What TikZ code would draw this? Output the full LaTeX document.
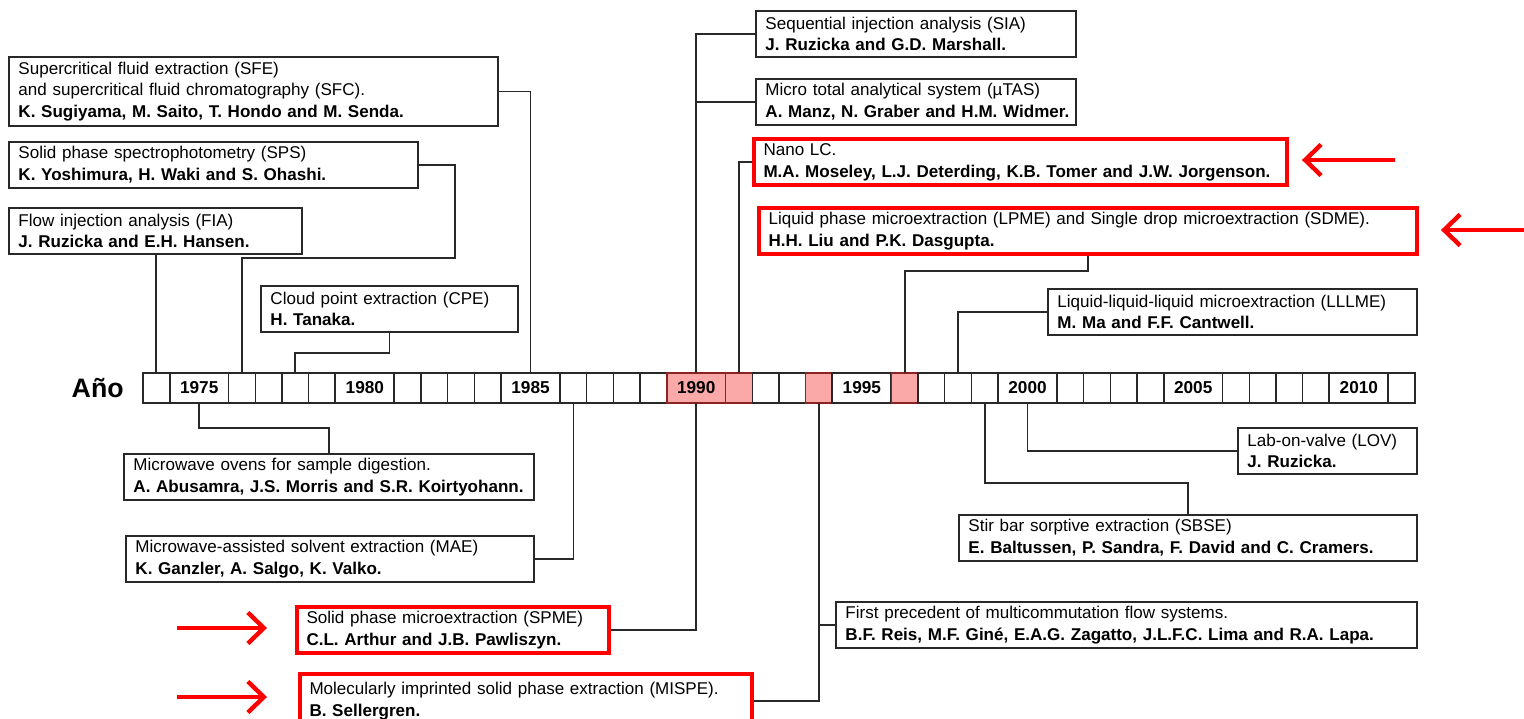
\documentclass[tikz,border=0pt]{standalone}
\usepackage{fontspec}
\setmainfont{Liberation Sans}
\usetikzlibrary{positioning,arrows.meta}
\definecolor{tlgray}{RGB}{40,40,40}
\definecolor{tlred}{RGB}{255,0,0}
\definecolor{tlpink}{RGB}{250,168,168}
\definecolor{tldark}{RGB}{140,35,35}
\newcommand{\evtext}[2]{\mbox{#1}\\\mbox{\bfseries #2}}
\tikzset{
  evt/.style={draw=tlgray, line width=1.1pt, anchor=north west, inner xsep=0.19cm, inner ysep=1pt,
    minimum height=0.92cm, text width=#1, align=left, font=\fontsize{9.7}{12.4}\selectfont},
  newevt/.style={evt=#1, draw=tlred, line width=2.3pt},
  cell/.style={draw=tlgray, line width=0.7pt, fill=white, minimum width=0.533cm, minimum height=0.6cm,
    inner sep=0pt, outer sep=0pt, font=\fontsize{9.8}{12}\selectfont\bfseries},
  bigcell/.style={cell, minimum width=1.182cm, line width=1.1pt},
  pinkcell/.style={fill=tlpink, draw=tldark},
  plaincell/.style={},
  link/.style={draw=tlgray, line width=1pt},
  pointer/.style={tlred, line width=2.5pt, -{Straight Barb[length=0.32cm, width=0.62cm]}}
}
\begin{document}
\begin{tikzpicture}[x=0.02cm, y=-0.02cm]
  \useasboundingbox (0,0) rectangle (1524,718);

  % time line, one cell per year
  \node[cell, anchor=west] (c1974) at (143,388) {};
  \foreach \yr [remember=\yr as \prv (initially 1974)] in {1975,...,2011}{
    \pgfmathtruncatemacro{\rest}{mod(\yr,5)}
    \pgfmathtruncatemacro{\ishl}{(\yr==1990)||(\yr==1991)||(\yr==1994)||(\yr==1996)}
    \ifnum\ishl=1 \def\tone{pinkcell}\else\def\tone{plaincell}\fi
    \ifnum\rest=0
      \node[bigcell, \tone, right=0pt of c\prv] (c\yr) {\yr};
    \else
      \node[cell, \tone, right=0pt of c\prv] (c\yr) {};
    \fi
  }
  \node[font=\fontsize{15.2}{18}\selectfont\bfseries, inner sep=0pt, left=0.38cm of c1974] (ano) {Año};

  % events above
  \node[evt=9.40cm, minimum height=1.38cm] (sfe) at (8,56)
    {\mbox{Supercritical fluid extraction (SFE)}\\\evtext{and supercritical fluid chromatography (SFC).}{K. Sugiyama, M. Saito, T. Hondo and M. Senda.}};
  \node[evt=7.80cm] (sps) at (8,141) {\evtext{Solid phase spectrophotometry (SPS)}{K. Yoshimura, H. Waki and S. Ohashi.}};
  \node[evt=5.48cm] (fia) at (8,207) {\evtext{Flow injection analysis (FIA)}{J. Ruzicka and E.H. Hansen.}};
  \node[evt=4.76cm] (cpe) at (260,285) {\evtext{Cloud point extraction (CPE)}{H. Tanaka.}};
  \node[evt=6.02cm] (sia) at (755,10) {\evtext{Sequential injection analysis (SIA)}{J. Ruzicka and G.D. Marshall.}};
  \node[evt=6.02cm] (mtas) at (755,78) {\evtext{Micro total analytical system (µTAS)}{A. Manz, N. Graber and H.M. Widmer.}};
  \node[newevt=10.28cm] (nano) at (752,137) {\evtext{Nano LC.}{M.A. Moseley, L.J. Deterding, K.B. Tomer and J.W. Jorgenson.}};
  \node[newevt=12.78cm] (lpme) at (757,206) {\evtext{Liquid phase microextraction (LPME) and Single drop microextraction (SDME).}{H.H. Liu and P.K. Dasgupta.}};
  \node[evt=7.00cm] (lll) at (1047,288) {\evtext{Liquid-liquid-liquid microextraction (LLLME)}{M. Ma and F.F. Cantwell.}};

  % events below
  \node[evt=7.82cm] (mwo) at (123,453) {\evtext{Microwave ovens for sample digestion.}{A. Abusamra, J.S. Morris and S.R. Koirtyohann.}};
  \node[evt=7.78cm] (mae) at (125,535) {\evtext{Microwave-assisted solvent extraction (MAE)}{K. Ganzler, A. Salgo, K. Valko.}};
  \node[newevt=5.86cm] (spme) at (295,605) {\evtext{Solid phase microextraction (SPME)}{C.L. Arthur and J.B. Pawliszyn.}};
  \node[newevt=8.66cm, minimum height=1.08cm] (mispe) at (298,672) {\evtext{Molecularly imprinted solid phase extraction (MISPE).}{B. Sellergren.}};
  \node[evt=11.24cm] (multi) at (835,601) {\evtext{First precedent of multicommutation flow systems.}{B.F. Reis, M.F. Giné, E.A.G. Zagatto, J.L.F.C. Lima and R.A. Lapa.}};
  \node[evt=8.78cm] (sbse) at (958,514) {\evtext{Stir bar sorptive extraction (SBSE)}{E. Baltussen, P. Sandra, F. David and C. Cramers.}};
  \node[evt=3.20cm] (lov) at (1237,427) {\evtext{Lab-on-valve (LOV)}{J. Ruzicka.}};

  % connectors
  \draw[link] (sfe.east) -| (c1985.north);
  \draw[link] (sps.east) -| (455,258) -| (c1976.north);
  \draw[link] (c1974.north |- fia.south) -- (c1974.north);
  \draw[link] (cpe.south) -- ++(0,20) -| (c1978.north);
  \draw[link] (sia.west) -| (c1990.north);
  \draw[link] (mtas.west) -| (c1990.north);
  \draw[link] (nano.west) -| (c1991.north);
  \draw[link] (lpme.south) -- ++(0,15) -| (c1996.north);
  \draw[link] (lll.west) -| (c1998.north);
  \draw[link] (mwo.north) -- ++(0,-25) -| (c1975.south);
  \draw[link] (mae.east) -| (c1986.south);
  \draw[link] (spme.east) -| (c1990.south);
  \draw[link] (mispe.east) -| (c1994.south);
  \draw[link] (multi.west) -| (c1994.south);
  \draw[link] (sbse.north) -- ++(0,-31) -| (c1999.south);
  \draw[link] (lov.west) -| (c2000.south);

  % red pointers
  \coordinate (p1) at (1395,160);
  \coordinate (p2) at (1524,230);
  \coordinate (p3) at (177,628);
  \coordinate (p4) at (177,697);
  \draw[pointer, shorten >=0.26cm] (p1) -- (p1 -| nano.east);
  \draw[pointer, shorten >=0.44cm] (p2) -- (p2 -| lpme.east);
  \draw[pointer, shorten >=0.56cm] (p3) -- (p3 -| spme.west);
  \draw[pointer, shorten >=0.62cm] (p4) -- (p4 -| mispe.west);
\end{tikzpicture}
\end{document}
